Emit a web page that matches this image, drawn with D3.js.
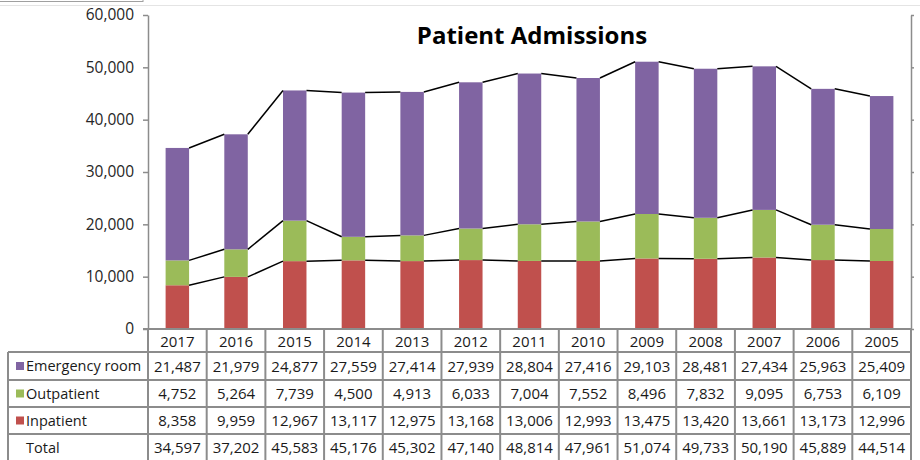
<!DOCTYPE html>
<html>
<head>
<meta charset="utf-8">
<script src="https://cdn.jsdelivr.net/npm/d3@7"></script>
<style>
  body { margin: 0; background: #fff; }
  svg { display: block; font-family: "Open Sans", sans-serif; }
</style>
</head>
<body>
<div id="chart"></div>
<script>
const years = ["2017", "2016", "2015", "2014", "2013", "2012", "2011", "2010", "2009", "2008", "2007", "2006", "2005"];
const emergency = [21487, 21979, 24877, 27559, 27414, 27939, 28804, 27416, 29103, 28481, 27434, 25963, 25409];
const outpatient = [4752, 5264, 7739, 4500, 4913, 6033, 7004, 7552, 8496, 7832, 9095, 6753, 6109];
const inpatient = [8358, 9959, 12967, 13117, 12975, 13168, 13006, 12993, 13475, 13420, 13661, 13173, 12996];
const totals = [34597, 37202, 45583, 45176, 45302, 47140, 48814, 47961, 51074, 49733, 50190, 45889, 44514];
const yTicks = [0, 10000, 20000, 30000, 40000, 50000, 60000];

// stacking order bottom -> top, table order top -> bottom
const series = [
  { name: "Inpatient", values: inpatient, color: "#C0504D" },
  { name: "Outpatient", values: outpatient, color: "#9BBB59" },
  { name: "Emergency room", values: emergency, color: "#8064A2" }
];

const W = 920, H = 460;
const plotLeft = 148, plotRight = 911, plotTop = 15, plotBase = 329;

const svg = d3.select("#chart").append("svg")
  .attr("width", W).attr("height", H);

// frame remnants at the top
svg.append("rect").attr("x", -1).attr("y", -2).attr("width", 144).attr("height", 3.5)
  .attr("fill", "none").attr("stroke", "#a0a0a0").attr("stroke-width", 1);
svg.append("line").attr("x1", 0).attr("x2", W).attr("y1", 5.5).attr("y2", 5.5)
  .attr("stroke", "#e4e4e4").attr("stroke-width", 1);

const x = d3.scaleBand().domain(years).range([plotLeft, plotRight]).paddingInner(0.6).paddingOuter(0.3);
const step = x.step();
const y = d3.scaleLinear().domain([0, 60000]).range([plotBase, plotTop]);

// stacked data
const rows = years.map((yr, i) => {
  const r = { year: yr };
  series.forEach(s => r[s.name] = s.values[i]);
  return r;
});
const stack = d3.stack().keys(series.map(s => s.name))(rows);

svg.append("g").selectAll("g")
  .data(stack)
  .join("g")
  .attr("fill", (d, i) => series[i].color)
  .selectAll("rect")
  .data(d => d)
  .join("rect")
  .attr("x", d => x(d.data.year))
  .attr("y", d => y(d[1]))
  .attr("width", x.bandwidth())
  .attr("height", d => y(d[0]) - y(d[1]));

// series lines between bars
stack.forEach(layer => {
  const segs = d3.pairs(layer);
  svg.append("g").selectAll("line")
    .data(segs)
    .join("line")
    .attr("x1", d => x(d[0].data.year) + x.bandwidth())
    .attr("y1", d => y(d[0][1]))
    .attr("x2", d => x(d[1].data.year))
    .attr("y2", d => y(d[1][1]))
    .attr("stroke", "#000")
    .attr("stroke-width", 1.5);
});

// left axis
const yAxis = svg.append("g")
  .attr("transform", `translate(${plotLeft},0)`)
  .call(d3.axisLeft(y).tickValues(yTicks).tickSize(5).tickSizeOuter(0).tickFormat(d3.format(",")));
yAxis.select(".domain").attr("stroke", "#8c8c8c").attr("stroke-width", 1.5);
yAxis.selectAll(".tick line").attr("stroke", "#8c8c8c").attr("stroke-width", 1.5);
yAxis.selectAll(".tick text").attr("font-size", 15.5).attr("fill", "#262626")
  .attr("font-family", "Open Sans, sans-serif").attr("x", -14);

// right axis
const yAxisR = svg.append("g")
  .attr("transform", `translate(${plotRight},0)`)
  .call(d3.axisRight(y).tickValues(yTicks).tickSize(3).tickSizeOuter(0).tickFormat(""));
yAxisR.select(".domain").attr("stroke", "#8c8c8c").attr("stroke-width", 1.5);
yAxisR.selectAll(".tick line").attr("stroke", "#8c8c8c").attr("stroke-width", 1.5);

// title
svg.append("text")
  .attr("x", 532).attr("y", 44)
  .attr("text-anchor", "middle")
  .attr("font-size", 24).attr("font-weight", "bold").attr("fill", "#000")
  .text("Patient Admissions");

// data table
const tableLeft = 8;
const rowTops = [352, 380, 407, 434];
const rowBottoms = [380, 407, 434, 461];
const tableRows = [
  { name: "Emergency room", values: emergency, color: "#8064A2" },
  { name: "Outpatient", values: outpatient, color: "#9BBB59" },
  { name: "Inpatient", values: inpatient, color: "#C0504D" },
  { name: "Total", values: totals, color: null }
];
const grid = svg.append("g").attr("stroke", "#8c8c8c").attr("stroke-width", 2);

// horizontal lines
grid.append("line").attr("x1", plotLeft - 5).attr("x2", plotRight).attr("y1", plotBase).attr("y2", plotBase);
rowTops.forEach(ry => {
  grid.append("line").attr("x1", tableLeft).attr("x2", plotRight).attr("y1", ry).attr("y2", ry);
});
// vertical lines
grid.append("line").attr("x1", tableLeft).attr("x2", tableLeft).attr("y1", rowTops[0]).attr("y2", H);
years.forEach((yr, i) => {
  const vx = plotLeft + i * step;
  grid.append("line").attr("x1", vx).attr("x2", vx).attr("y1", plotBase).attr("y2", H);
});
grid.append("line").attr("x1", plotRight).attr("x2", plotRight).attr("y1", plotBase).attr("y2", H);

// year header
svg.append("g").selectAll("text")
  .data(years)
  .join("text")
  .attr("x", d => x(d) + x.bandwidth() / 2)
  .attr("y", 346.5)
  .attr("text-anchor", "middle")
  .attr("font-size", 15).attr("fill", "#1a1a1a")
  .text(d => d);

tableRows.forEach((r, ri) => {
  const cy = (rowTops[ri] + rowBottoms[ri]) / 2;
  const g = svg.append("g");
  if (r.color) {
    g.append("rect").attr("x", 16).attr("y", cy - 4).attr("width", 8).attr("height", 8).attr("fill", r.color);
  }
  g.append("text")
    .attr("x", 26)
    .attr("y", cy + 5)
    .attr("font-size", 14.5).attr("fill", "#1a1a1a")
    .text(r.name);
  g.selectAll("text.val")
    .data(r.values)
    .join("text")
    .attr("class", "val")
    .attr("x", (d, i) => x(years[i]) + x.bandwidth() / 2)
    .attr("y", cy + 5.5)
    .attr("text-anchor", "middle")
    .attr("font-size", 15).attr("fill", "#1a1a1a")
    .text(d => d3.format(",")(d));
});
</script>
</body>
</html>
